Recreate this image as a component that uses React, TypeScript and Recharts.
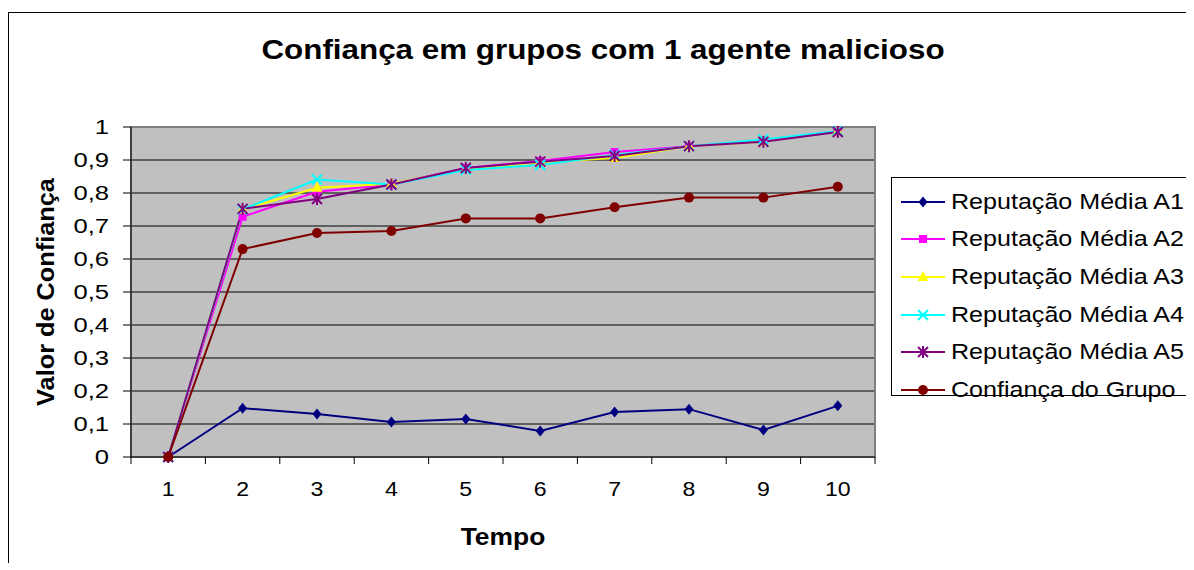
import { LineChart, Line, XAxis, YAxis, CartesianGrid, ReferenceArea } from 'recharts';

const tempo = [1, 2, 3, 4, 5, 6, 7, 8, 9, 10];
const repA1 = [0, 0.148, 0.13, 0.106, 0.115, 0.079, 0.136, 0.145, 0.082, 0.155];
const repA2 = [0, 0.728, 0.804, 0.826, 0.876, 0.897, 0.924, 0.942, 0.958, 0.988];
const repA3 = [0, 0.75, 0.816, 0.828, 0.873, 0.893, 0.906, 0.942, 0.955, 0.988];
const repA4 = [0, 0.75, 0.841, 0.826, 0.87, 0.885, 0.915, 0.942, 0.962, 0.988];
const repA5 = [0, 0.752, 0.782, 0.826, 0.876, 0.895, 0.912, 0.942, 0.955, 0.985];
const confGrupo = [0, 0.63, 0.679, 0.685, 0.723, 0.723, 0.757, 0.786, 0.786, 0.819];
const yTicks = [0, 0.1, 0.2, 0.3, 0.4, 0.5, 0.6, 0.7, 0.8, 0.9, 1];

type Shape = 'diamond' | 'square' | 'triangle' | 'x' | 'star' | 'circle';

const series: { key: string; name: string; color: string; shape: Shape; values: number[] }[] = [
  { key: 'a1', name: 'Reputação Média A1', color: '#000080', shape: 'diamond', values: repA1 },
  { key: 'a2', name: 'Reputação Média A2', color: '#ff00ff', shape: 'square', values: repA2 },
  { key: 'a3', name: 'Reputação Média A3', color: '#ffff00', shape: 'triangle', values: repA3 },
  { key: 'a4', name: 'Reputação Média A4', color: '#00ffff', shape: 'x', values: repA4 },
  { key: 'a5', name: 'Reputação Média A5', color: '#800080', shape: 'star', values: repA5 },
  { key: 'grupo', name: 'Confiança do Grupo', color: '#800000', shape: 'circle', values: confGrupo },
];

const data = tempo.map((t, i) => {
  const row: Record<string, number> = { t };
  series.forEach((s) => (row[s.key] = s.values[i]));
  return row;
});

// category boundaries, so tick marks fall between the points
const bounds = [...tempo.map((t) => t - 0.5), tempo[tempo.length - 1] + 0.5];

const FONT = '"Liberation Sans", Arial, sans-serif';
const PLOT_W = 744;
const HALF_BAND = PLOT_W / tempo.length / 2;

function Marker({ shape, color, cx, cy }: { shape: Shape; color: string; cx: number; cy: number }) {
  switch (shape) {
    case 'diamond':
      return <polygon points={`${cx},${cy - 5.5} ${cx + 4.5},${cy} ${cx},${cy + 5.5} ${cx - 4.5},${cy}`} fill={color} />;
    case 'square':
      return <rect x={cx - 4} y={cy - 4} width={8} height={8} fill={color} />;
    case 'triangle':
      return <polygon points={`${cx},${cy - 6} ${cx + 5.5},${cy + 4} ${cx - 5.5},${cy + 4}`} fill={color} />;
    case 'x':
      return (
        <g stroke={color} strokeWidth={2}>
          <line x1={cx - 5} y1={cy - 5} x2={cx + 5} y2={cy + 5} />
          <line x1={cx - 5} y1={cy + 5} x2={cx + 5} y2={cy - 5} />
        </g>
      );
    case 'star':
      return (
        <g stroke={color} strokeWidth={2}>
          <line x1={cx - 5} y1={cy - 5} x2={cx + 5} y2={cy + 5} />
          <line x1={cx - 5} y1={cy + 5} x2={cx + 5} y2={cy - 5} />
          <line x1={cx} y1={cy - 6} x2={cx} y2={cy + 6} />
        </g>
      );
    default:
      return <circle cx={cx} cy={cy} r={5} fill={color} />;
  }
}

function makeDot(shape: Shape, color: string) {
  return (p: any) => (
    <g key={`${shape}-${p.index}`}>
      <Marker shape={shape} color={color} cx={p.cx} cy={p.cy} />
    </g>
  );
}

function XTick(p: any) {
  const v = p.payload.value;
  if (v > tempo[tempo.length - 1]) return <g />;
  return (
    <text
      transform={`translate(${p.x + HALF_BAND},${p.y + 30}) scale(1.1,1)`}
      textAnchor="middle"
      fontSize={21}
      fontFamily={FONT}
      fill="#000"
    >
      {v + 0.5}
    </text>
  );
}

const fmtY = (v: number) => (v === 0 || v === 1 ? String(v) : v.toFixed(1).replace('.', ','));

function YTick(p: any) {
  return (
    <text
      transform={`translate(${p.x - 12},${p.y + 7}) scale(1.22,1)`}
      textAnchor="end"
      fontSize={21}
      fontFamily={FONT}
      fill="#000"
    >
      {fmtY(p.payload.value)}
    </text>
  );
}

export default function App() {
  return (
    <div
      style={{
        position: 'relative',
        marginTop: 4,
        width: 1178,
        height: 550,
        borderTop: '1px solid #000',
        borderLeft: '1px solid #000',
        fontFamily: FONT,
      }}
    >
      <div
        style={{
          position: 'absolute',
          left: 0,
          width: 1188,
          top: 21,
          textAlign: 'center',
          fontSize: 28,
          fontWeight: 'bold',
          lineHeight: '32px',
          transform: 'scaleX(1.12)',
          transformOrigin: '594px 0',
        }}
      >
        Confiança em grupos com 1 agente malicioso
      </div>
      <div
        style={{
          position: 'absolute',
          left: 37 - 150,
          top: 279 - 14,
          width: 300,
          textAlign: 'center',
          fontSize: 23,
          fontWeight: 'bold',
          lineHeight: '28px',
          transform: 'rotate(-90deg) scaleX(1.1)',
        }}
      >
        Valor de Confiança
      </div>
      <div
        style={{
          position: 'absolute',
          left: 494 - 100,
          top: 524 - 15,
          width: 200,
          textAlign: 'center',
          fontSize: 24,
          fontWeight: 'bold',
          lineHeight: '30px',
          transform: 'scaleX(1.1)',
        }}
      >
        Tempo
      </div>
      <LineChart width={1170} height={548} data={data} margin={{ top: 114, right: 304, left: 62, bottom: 64 }}>
        <CartesianGrid vertical={false} stroke="#000" fill="#c0c0c0" fillOpacity={1} />
        <ReferenceArea x1={bounds[0]} x2={bounds[bounds.length - 1]} y1={0} y2={1} fill="none" stroke="#808080" strokeWidth={2} ifOverflow="visible" />
        <XAxis
          dataKey="t"
          type="number"
          domain={[bounds[0], bounds[bounds.length - 1]]}
          ticks={bounds}
          interval={0}
          height={40}
          tickSize={7}
          stroke="#000"
          tick={<XTick />}
        />
        <YAxis
          type="number"
          domain={[0, 1]}
          ticks={yTicks}
          interval={0}
          width={60}
          tickSize={8}
          stroke="#000"
          tick={<YTick />}
        />
        {series.map((s) => (
          <Line
            key={s.key}
            dataKey={s.key}
            name={s.name}
            stroke={s.color}
            strokeWidth={2}
            dot={makeDot(s.shape, s.color)}
            activeDot={false}
            isAnimationActive={false}
          />
        ))}
      </LineChart>
      <div
        style={{
          position: 'absolute',
          left: 882,
          top: 164,
          width: 299,
          height: 219,
          border: '1px solid #000',
          background: '#fff',
          paddingTop: 5,
          boxSizing: 'border-box',
        }}
      >
        {series.map((s) => (
          <div key={s.key} style={{ display: 'flex', alignItems: 'center', height: 37.6, fontSize: 22 }}>
            <svg width={51} height={16} style={{ marginLeft: 8, flex: 'none' }}>
              <line x1={1} y1={8} x2={45} y2={8} stroke={s.color} strokeWidth={2} />
              <Marker shape={s.shape} color={s.color} cx={23} cy={8} />
            </svg>
            <span style={{ whiteSpace: 'nowrap', display: 'inline-block', transform: 'scaleX(1.14)', transformOrigin: '0 0' }}>
              {s.name}
            </span>
          </div>
        ))}
      </div>
    </div>
  );
}
